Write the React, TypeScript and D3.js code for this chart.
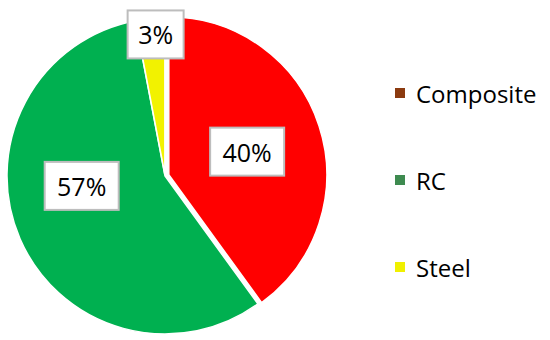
import React from "react";
import * as d3 from "d3";

const categories = ["Composite", "RC", "Steel"];
const values = [40, 57, 3];
const percentLabels = ["40%", "57%", "3%"];

const sliceColors = ["#FF0000", "#00B050", "#F2F200"];
const legendColors = ["#8B3A0F", "#3E8B50", "#F0F000"];

const W = 550;
const H = 340;
const CX = 165;
const CY = 176;
const R = 158;
const FONT = "'Open Sans', 'Noto Sans', sans-serif";
// explode distance per slice (layout, not data)
const explode = [4, 0, 1.5];
// label radius factor and nudges (layout)
const labelRadius = [0.54, 0.54, 0.9];
const labelNudge: [number, number][] = [[1, 2], [-5, -24], [4, 0]];

export default function App() {
  const pie = d3
    .pie<number>()
    .sort(null)
    .value((d) => d)
    .startAngle(0)
    .endAngle(2 * Math.PI);
  const arcs = pie(values);
  const arc = d3.arc<d3.PieArcDatum<number>>().innerRadius(0).outerRadius(R);

  const legendY = d3.scalePoint<string>().domain(categories).range([93, 267]);

  return (
    <svg
      width={W}
      height={H}
      style={{ position: "absolute", left: 0, top: 0, background: "#fff" }}
    >
      <g transform={`translate(${CX},${CY})`}>
        {arcs.map((a, i) => {
          const mid = (a.startAngle + a.endAngle) / 2;
          const dx = Math.sin(mid) * explode[i];
          const dy = -Math.cos(mid) * explode[i];
          return (
            <path
              key={categories[i]}
              d={arc(a) || ""}
              transform={`translate(${dx},${dy})`}
              fill={sliceColors[i]}
              stroke="#fff"
              strokeWidth={1.5}
            />
          );
        })}
        {arcs.map((a, i) => {
          const mid = (a.startAngle + a.endAngle) / 2;
          const lr = R * labelRadius[i];
          const x = Math.sin(mid) * lr + labelNudge[i][0];
          const y = -Math.cos(mid) * lr + labelNudge[i][1];
          const bw = percentLabels[i].length === 2 ? 56 : 74;
          const bh = 48;
          return (
            <g key={"l" + i} transform={`translate(${x},${y})`}>
              <rect
                x={-bw / 2}
                y={-bh / 2}
                width={bw}
                height={bh}
                fill="#fff"
                stroke="#BDBDBD"
                strokeWidth={2}
              />
              <text
                textAnchor="middle"
                dominantBaseline="central"
                fontFamily={FONT}
                fontSize={25}
                fill="#000"
              >
                {percentLabels[i]}
              </text>
            </g>
          );
        })}
      </g>
      {categories.map((c, i) => (
        <g key={"lg" + c} transform={`translate(395,${legendY(c)})`}>
          <rect x={0} y={-5} width={10} height={10} fill={legendColors[i]} />
          <text
            x={21}
            y={0}
            dominantBaseline="central"
            fontFamily={FONT}
            fontSize={24}
            fill="#000"
          >
            {c}
          </text>
        </g>
      ))}
    </svg>
  );
}
